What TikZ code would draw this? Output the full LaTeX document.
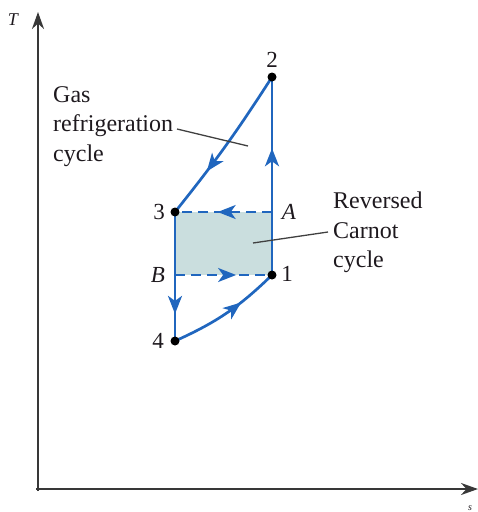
\documentclass[tikz,border=0pt]{standalone}
\usepackage{fontspec}
\setmainfont{Liberation Serif}
\usetikzlibrary{arrows.meta,decorations.markings}
\definecolor{cyc}{RGB}{32,102,190}
\definecolor{shadefill}{RGB}{202,222,222}
\definecolor{txt}{RGB}{30,25,30}
\tikzset{
  cycline/.style={draw=cyc, line width=2.7pt},
  dashline/.style={draw=cyc, line width=2.2pt, dash pattern=on 10pt off 6pt},
  midarrow/.style={postaction={decorate,decoration={markings,
     mark=at position #1 with {\arrow[cyc]{Stealth[length=18pt,width=14pt,inset=5pt]}}}}},
  statedot/.style={circle, fill=black, inner sep=0pt, minimum size=9pt},
  lbl/.style={font=\fontsize{23}{25}\selectfont, text=txt, inner sep=0pt},
  ilbl/.style={font=\fontsize{23}{25}\selectfont\itshape, text=txt, inner sep=0pt},
  note/.style={font=\fontsize{24}{29.5}\selectfont, text=txt, align=left, inner sep=0pt},
  leader/.style={draw=black!75, line width=1.3pt},
  axis/.style={draw=black!78, line width=2.4pt, -{Stealth[length=17pt,width=12pt]}}
}
\begin{document}
\begin{tikzpicture}[x=1pt,y=-1pt]
\useasboundingbox (0,0) rectangle (478,512);
% axes
\coordinate (Ttip) at (38,12);
\coordinate (stip) at (478,489);
\draw[axis] (38,491) -- (Ttip);
\draw[axis] (36,489) -- (stip);
\node[font=\fontsize{18}{20}\selectfont\itshape, text=txt, inner sep=0pt] (Tlab) at (13,20) {T};
\node[font=\fontsize{10}{12}\selectfont\itshape, text=txt, inner sep=0pt, anchor=south] (slab) at (470,511) {s};
% states
\coordinate (p2) at (272,77);
\coordinate (p3) at (175,212);
\coordinate (pA) at (272,212);
\coordinate (pB) at (175,275);
\coordinate (p1) at (272,275);
\coordinate (p4) at (175,341);
% shaded reversed Carnot region
\fill[shadefill] (p3) rectangle (p1);
% dashed Carnot lines
\draw[dashline, midarrow=0.56] (pA) -- (p3);
\draw[dashline, midarrow=0.63] (pB) -- (p1);
% gas refrigeration cycle
\draw[cycline, midarrow=0.64] (p1) -- (p2);
\draw[cycline, midarrow=0.69] (p2) to[bend left=3] (p3);
\draw[cycline, midarrow=0.79] (p3) -- (p4);
\draw[cycline, midarrow=0.65] (p4) to[bend right=10] (p1);
% dots
\node[statedot] (d2) at (p2) {};
\node[statedot] (d3) at (p3) {};
\node[statedot] (d1) at (p1) {};
\node[statedot] (d4) at (p4) {};
% state labels
\node[lbl] (l2) at (272,60) {2};
\node[lbl] (l3) at (159,212) {3};
\node[ilbl] (lA) at (289,212) {A};
\node[ilbl] (lB) at (158,275) {B};
\node[lbl] (l1) at (287,274) {1};
\node[lbl] (l4) at (158,341) {4};
% notes
\node[note, anchor=north west] (gas) at (53,86) {Gas\\refrigeration\\cycle};
\node[note, anchor=north west] (carnot) at (333,192) {Reversed\\Carnot\\cycle};
\coordinate (gasend) at (248,146);
\coordinate (carend) at (253,243);
\draw[leader] (177,129) -- (gasend);
\draw[leader] (328,232) -- (carend);
\end{tikzpicture}
\end{document}
